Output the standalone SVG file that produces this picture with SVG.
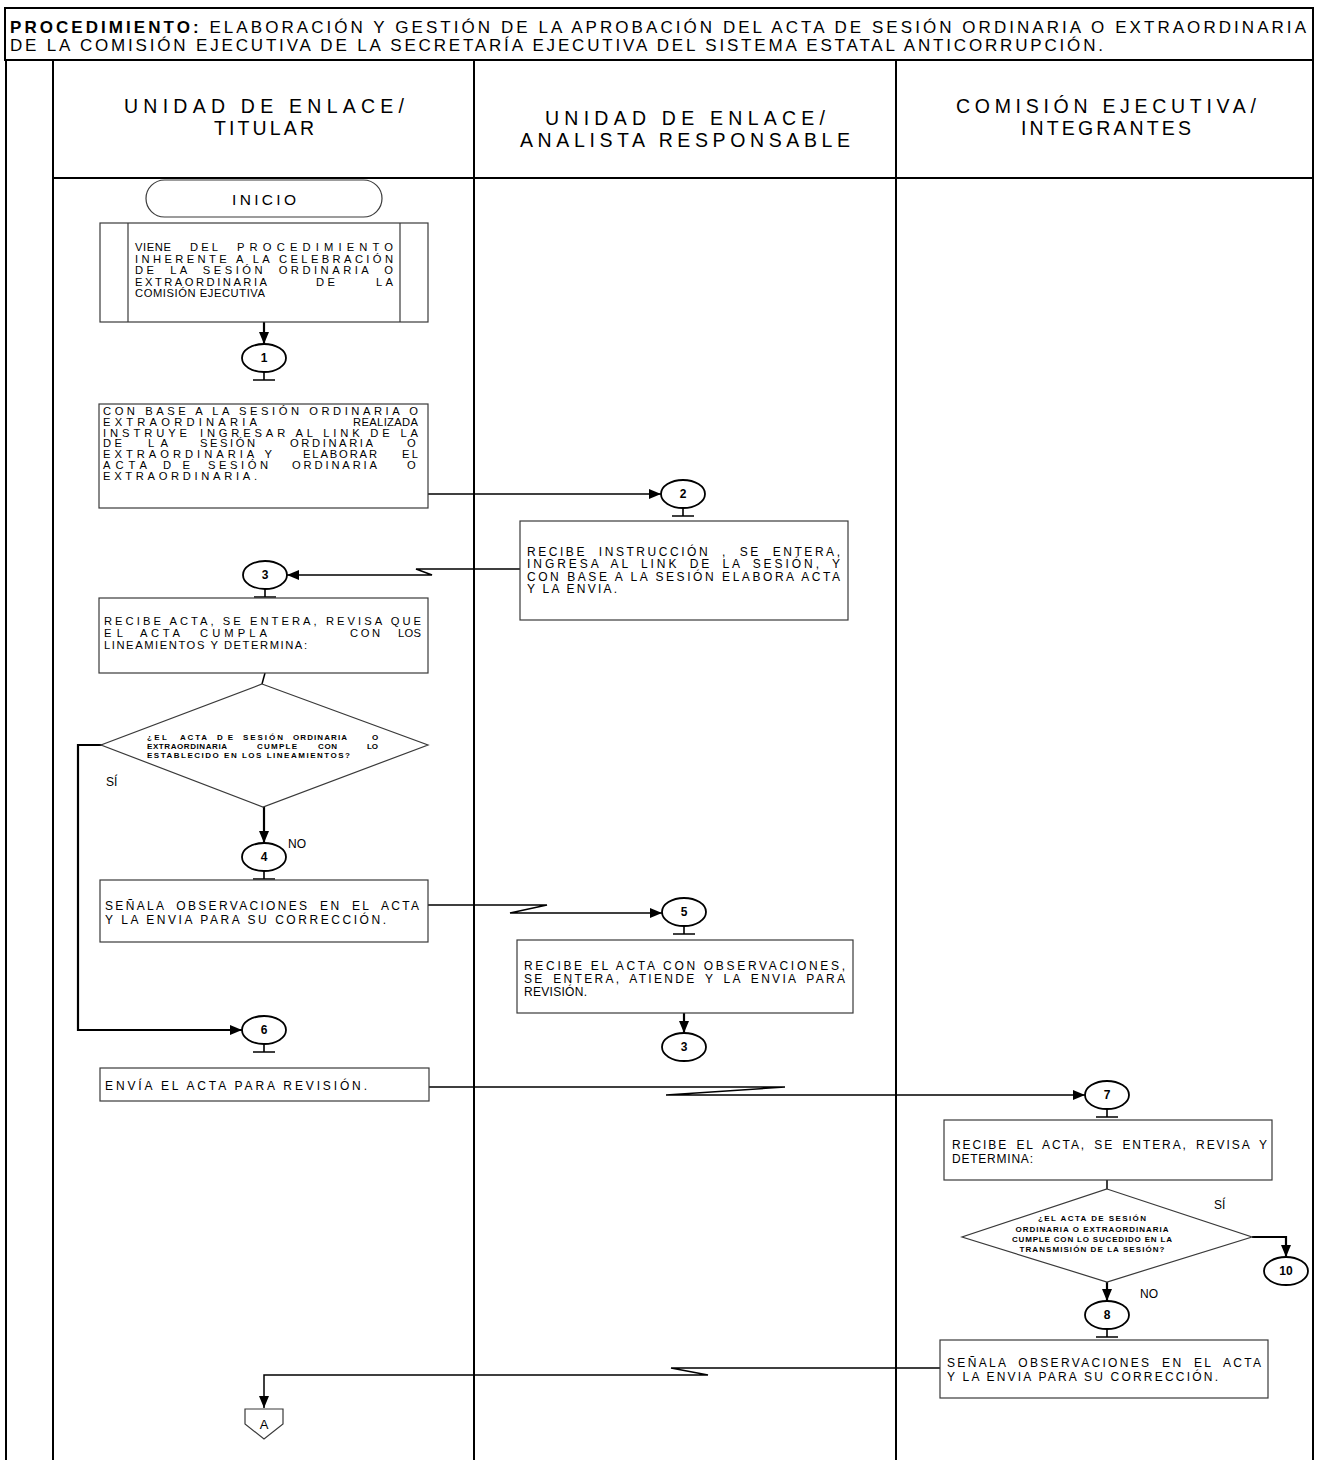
<svg xmlns="http://www.w3.org/2000/svg" width="1318" height="1460" viewBox="0 0 1318 1460">
<defs>
<marker id="ah" markerUnits="userSpaceOnUse" markerWidth="12" markerHeight="10" refX="12" refY="5" orient="auto"><path d="M0,0 L12,5 L0,10 z" fill="#000"/></marker>
<style>
text{font-family:"Liberation Sans",Arial,sans-serif;fill:#000}
.h{font-size:17px}
.lh{font-size:19.5px}
.t{font-size:12px}
.s{font-size:11.2px}
.d{font-size:8px;font-weight:bold}
.n{font-size:12px;font-weight:bold;text-anchor:middle}
.lab{font-size:12px}
.box{fill:#fff;stroke:#3a3a3a;stroke-width:1.2}
.frame{stroke:#000;stroke-width:2;fill:none}
.c{fill:#fff;stroke:#000;stroke-width:1.8}
.tee{stroke:#000;stroke-width:1.6;fill:none}
.cn{stroke:#000;stroke-width:1.5;fill:none}
.ca{stroke:#000;stroke-width:2.2;fill:none}
</style>
</defs>
<rect width="1318" height="1460" fill="#fff"/>

<g id="frame">
<rect x="5" y="8" width="1308" height="52" class="frame"/>
<line x1="6" y1="60" x2="6" y2="1460" class="frame"/>
<line x1="1313" y1="60" x2="1313" y2="1460" class="frame"/>
<line x1="53" y1="60" x2="53" y2="1460" class="frame"/>
<line x1="474" y1="60" x2="474" y2="1460" class="frame"/>
<line x1="896" y1="60" x2="896" y2="1460" class="frame"/>
<line x1="53" y1="178" x2="1313" y2="178" class="frame"/>
<text class="h" x="10" y="33" textLength="1296" lengthAdjust="spacing"><tspan font-weight="bold">PROCEDIMIENTO:</tspan> ELABORACIÓN Y GESTIÓN DE LA APROBACIÓN DEL ACTA DE SESIÓN ORDINARIA O EXTRAORDINARIA</text>
<text class="h" x="10" y="50.5" textLength="1093" lengthAdjust="spacing">DE LA COMISIÓN EJECUTIVA DE LA SECRETARÍA EJECUTIVA DEL SISTEMA ESTATAL ANTICORRUPCIÓN.</text>
</g>

<g id="lane1-header"><text class="lh" x="264" y="113" text-anchor="middle" textLength="280" lengthAdjust="spacing">UNIDAD DE ENLACE/</text><text class="lh" x="264" y="135" text-anchor="middle" textLength="100" lengthAdjust="spacing">TITULAR</text></g>
<g id="lane2-header"><text class="lh" x="685" y="125" text-anchor="middle" textLength="280" lengthAdjust="spacing">UNIDAD DE ENLACE/</text><text class="lh" x="685" y="147" text-anchor="middle" textLength="330" lengthAdjust="spacing">ANALISTA RESPONSABLE</text></g>
<g id="lane3-header"><text class="lh" x="1106" y="113" text-anchor="middle" textLength="300" lengthAdjust="spacing">COMISIÓN EJECUTIVA/</text><text class="lh" x="1106" y="135" text-anchor="middle" textLength="170" lengthAdjust="spacing">INTEGRANTES</text></g>

<g id="connectors">
<path d="M264,322 V344" class="ca" marker-end="url(#ah)"/>
<path d="M428,494 H661" class="cn" marker-end="url(#ah)"/>
<path d="M520,569 H416 L432,575 H287" class="cn" marker-end="url(#ah)"/>
<path d="M265,673 L262,684" class="cn"/>
<path d="M103,745 H78 V1030 H242" class="ca" marker-end="url(#ah)"/>
<path d="M264,806 V843" class="ca" marker-end="url(#ah)"/>
<path d="M428,905 H547 L510,913 H662" class="cn" marker-end="url(#ah)"/>
<path d="M684,1013 V1033" class="ca" marker-end="url(#ah)"/>
<path d="M429,1087 H785 L666,1095 H1085" class="cn" marker-end="url(#ah)"/>
<path d="M1107,1180 V1189" class="cn"/>
<path d="M1252,1237 H1286 V1257" class="ca" marker-end="url(#ah)"/>
<path d="M1107,1282 V1301" class="ca" marker-end="url(#ah)"/>
<path d="M940,1368 H671 L708,1375 H264 V1408" class="cn" marker-end="url(#ah)"/>
</g>

<g id="inicio"><rect x="146" y="180" width="236" height="37" rx="18.5" class="box"/><text x="264" y="204.5" font-size="15.5" text-anchor="middle" textLength="64" lengthAdjust="spacing">INICIO</text></g>

<g id="box-viene"><rect x="100" y="223" width="328" height="99" class="box"/><line x1="128" y1="223" x2="128" y2="322" class="box"/><line x1="400" y1="223" x2="400" y2="322" class="box"/>
<text class="s" x="135" y="251" textLength="36" lengthAdjust="spacing">VIENE</text><text class="s" x="190" y="251" textLength="28" lengthAdjust="spacing">DEL</text><text class="s" x="237" y="251" textLength="156" lengthAdjust="spacing">PROCEDIMIENTO</text>
<text class="s" x="135" y="262.5" textLength="258" lengthAdjust="spacing">INHERENTE A LA CELEBRACIÓN</text>
<text class="s" x="135" y="274" textLength="258" lengthAdjust="spacing" word-spacing="6">DE LA SESIÓN ORDINARIA O</text>
<text class="s" x="135" y="285.5" textLength="132" lengthAdjust="spacing">EXTRAORDINARIA</text><text class="s" x="316" y="285.5" textLength="19" lengthAdjust="spacing">DE</text><text class="s" x="376" y="285.5" textLength="17" lengthAdjust="spacing">LA</text>
<text class="s" x="135" y="297" textLength="130" lengthAdjust="spacing">COMISIÓN EJECUTIVA</text></g>

<g id="n1"><ellipse cx="264" cy="358" rx="22" ry="14" class="c"/><path d="M264,372 V380 M253,380 H275" class="tee"/><text class="n" x="264" y="362">1</text></g>

<g id="box-con-base"><rect x="99" y="404" width="329" height="104" class="box"/>
<text class="s" x="103" y="415" textLength="315" lengthAdjust="spacing">CON BASE A LA SESIÓN ORDINARIA O</text>
<text class="s" x="103" y="425.7" textLength="154" lengthAdjust="spacing">EXTRAORDINARIA</text><text class="s" x="353" y="425.7" textLength="65" lengthAdjust="spacing">REALIZADA</text>
<text class="s" x="103" y="436.7" textLength="84" lengthAdjust="spacing">INSTRUYE</text><text class="s" x="200" y="436.7" textLength="218" lengthAdjust="spacing">INGRESAR AL LINK DE LA</text>
<text class="s" x="103" y="447.3" textLength="19" lengthAdjust="spacing">DE</text><text class="s" x="148" y="447.3" textLength="20" lengthAdjust="spacing">LA</text><text class="s" x="200" y="447.3" textLength="55" lengthAdjust="spacing">SESIÓN</text><text class="s" x="290" y="447.3" textLength="83" lengthAdjust="spacing">ORDINARIA</text><text class="s" x="407" y="447.3" textLength="11" lengthAdjust="spacing">O</text>
<text class="s" x="103" y="458" textLength="169" lengthAdjust="spacing">EXTRAORDINARIA  Y</text><text class="s" x="303" y="458" textLength="74" lengthAdjust="spacing">ELABORAR</text><text class="s" x="402" y="458" textLength="16" lengthAdjust="spacing">EL</text>
<text class="s" x="103" y="469" textLength="44" lengthAdjust="spacing">ACTA</text><text class="s" x="163" y="469" textLength="27" lengthAdjust="spacing">DE</text><text class="s" x="208" y="469" textLength="60" lengthAdjust="spacing">SESIÓN</text><text class="s" x="292" y="469" textLength="85" lengthAdjust="spacing">ORDINARIA</text><text class="s" x="407" y="469" textLength="11" lengthAdjust="spacing">O</text>
<text class="s" x="103" y="480" textLength="154" lengthAdjust="spacing">EXTRAORDINARIA.</text></g>

<g id="n2"><ellipse cx="683" cy="494" rx="22" ry="14" class="c"/><path d="M683,508 V516 M672,516 H694" class="tee"/><text class="n" x="683" y="498">2</text></g>

<g id="box-recibe-instruccion"><rect x="520" y="521" width="328" height="99" class="box"/>
<text class="t" x="527" y="555.5" textLength="313" lengthAdjust="spacing" word-spacing="6">RECIBE INSTRUCCIÓN , SE ENTERA,</text>
<text class="t" x="527" y="568" textLength="313" lengthAdjust="spacing" word-spacing="4">INGRESA AL LINK  DE LA SESIÓN, Y</text>
<text class="t" x="527" y="580.5" textLength="313" lengthAdjust="spacing">CON BASE A LA SESIÓN ELABORA ACTA</text>
<text class="t" x="527" y="593" textLength="90" lengthAdjust="spacing">Y LA ENVIA.</text></g>

<g id="n3"><ellipse cx="265" cy="575" rx="22" ry="14" class="c"/><path d="M265,589 V597 M254,597 H276" class="tee"/><text class="n" x="265" y="579">3</text></g>

<g id="box-recibe-acta"><rect x="99" y="598" width="329" height="75" class="box"/>
<text class="s" x="104" y="625" textLength="317" lengthAdjust="spacing">RECIBE ACTA, SE ENTERA, REVISA QUE</text>
<text class="s" x="104" y="637" textLength="19" lengthAdjust="spacing">EL</text><text class="s" x="140" y="637" textLength="40" lengthAdjust="spacing">ACTA</text><text class="s" x="200" y="637" textLength="67" lengthAdjust="spacing">CUMPLA</text><text class="s" x="350" y="637" textLength="30" lengthAdjust="spacing">CON</text><text class="s" x="398" y="637" textLength="23" lengthAdjust="spacing">LOS</text>
<text class="s" x="104" y="649" textLength="203" lengthAdjust="spacing">LINEAMIENTOS Y DETERMINA:</text></g>

<g id="decision1"><polygon points="262,684 428,745 263,807 101,745" class="box"/>
<text class="d" x="147" y="739.5" textLength="20" lengthAdjust="spacing">¿EL</text><text class="d" x="180" y="739.5" textLength="27" lengthAdjust="spacing">ACTA</text><text class="d" x="217" y="739.5" textLength="16" lengthAdjust="spacing">DE</text><text class="d" x="243" y="739.5" textLength="40" lengthAdjust="spacing">SESIÓN</text><text class="d" x="293" y="739.5" textLength="54" lengthAdjust="spacing">ORDINARIA</text><text class="d" x="372" y="739.5" textLength="6" lengthAdjust="spacing">O</text>
<text class="d" x="147" y="748.5" textLength="80" lengthAdjust="spacing">EXTRAORDINARIA</text><text class="d" x="257" y="748.5" textLength="40" lengthAdjust="spacing">CUMPLE</text><text class="d" x="318" y="748.5" textLength="19" lengthAdjust="spacing">CON</text><text class="d" x="367" y="748.5" textLength="11" lengthAdjust="spacing">LO</text>
<text class="d" x="147" y="757.7" textLength="203" lengthAdjust="spacing">ESTABLECIDO EN LOS LINEAMIENTOS?</text></g>
<text class="lab" x="106" y="786">SÍ</text>
<text class="lab" x="288" y="848">NO</text>

<g id="n4"><ellipse cx="264" cy="857" rx="22" ry="14" class="c"/><path d="M264,871 V879 M253,879 H275" class="tee"/><text class="n" x="264" y="861">4</text></g>

<g id="box-senala1"><rect x="100" y="880" width="328" height="62" class="box"/>
<text class="t" x="105" y="909.5" textLength="314" lengthAdjust="spacing" word-spacing="5">SEÑALA OBSERVACIONES EN EL ACTA</text>
<text class="t" x="105" y="923.5" textLength="281" lengthAdjust="spacing">Y LA ENVIA PARA SU CORRECCIÓN.</text></g>

<g id="n5"><ellipse cx="684" cy="912" rx="22" ry="14" class="c"/><path d="M684,926 V934 M673,934 H695" class="tee"/><text class="n" x="684" y="916">5</text></g>

<g id="box-recibe-obs"><rect x="517" y="940" width="336" height="73" class="box"/>
<text class="t" x="524" y="969.5" textLength="321" lengthAdjust="spacing">RECIBE EL ACTA CON OBSERVACIONES,</text>
<text class="t" x="524" y="982.5" textLength="321" lengthAdjust="spacing" word-spacing="3">SE ENTERA, ATIENDE Y LA ENVIA PARA</text>
<text class="t" x="524" y="995.5" textLength="63" lengthAdjust="spacing">REVISIÓN.</text></g>

<g id="n3b"><ellipse cx="684" cy="1047" rx="22" ry="14" class="c"/><text class="n" x="684" y="1051">3</text></g>

<g id="n6"><ellipse cx="264" cy="1030" rx="22" ry="14" class="c"/><path d="M264,1044 V1052 M253,1052 H275" class="tee"/><text class="n" x="264" y="1034">6</text></g>

<g id="box-envia"><rect x="100" y="1068" width="329" height="33" class="box"/>
<text class="t" x="105" y="1089.5" textLength="262" lengthAdjust="spacing">ENVÍA  EL ACTA PARA REVISIÓN.</text></g>

<g id="n7"><ellipse cx="1107" cy="1095" rx="22" ry="14" class="c"/><path d="M1107,1109 V1117 M1096,1117 H1118" class="tee"/><text class="n" x="1107" y="1099">7</text></g>

<g id="box-recibe-determina"><rect x="944" y="1120" width="328" height="60" class="box"/>
<text class="t" x="952" y="1148.5" textLength="315" lengthAdjust="spacing" word-spacing="3">RECIBE EL ACTA, SE ENTERA, REVISA  Y</text>
<text class="t" x="952" y="1162.5" textLength="81" lengthAdjust="spacing">DETERMINA:</text></g>

<g id="decision2"><polygon points="1107,1189 1252,1237 1107,1282 962,1237" class="box"/>
<text class="d" x="1092" y="1221" text-anchor="middle" textLength="108" lengthAdjust="spacing">¿EL ACTA DE SESIÓN</text>
<text class="d" x="1092" y="1231.5" text-anchor="middle" textLength="153" lengthAdjust="spacing">ORDINARIA O EXTRAORDINARIA</text>
<text class="d" x="1092" y="1242" text-anchor="middle" textLength="160" lengthAdjust="spacing">CUMPLE CON LO SUCEDIDO EN LA</text>
<text class="d" x="1092" y="1252" text-anchor="middle" textLength="145" lengthAdjust="spacing">TRANSMISIÓN DE LA SESIÓN?</text></g>
<text class="lab" x="1214" y="1209">SÍ</text>
<text class="lab" x="1140" y="1298">NO</text>

<g id="n10"><ellipse cx="1286" cy="1271" rx="22" ry="14" class="c"/><text class="n" x="1286" y="1275">10</text></g>

<g id="n8"><ellipse cx="1107" cy="1315" rx="22" ry="14" class="c"/><path d="M1107,1329 V1337 M1096,1337 H1118" class="tee"/><text class="n" x="1107" y="1319">8</text></g>

<g id="box-senala2"><rect x="940" y="1340" width="328" height="58" class="box"/>
<text class="t" x="947" y="1367" textLength="314" lengthAdjust="spacing" word-spacing="5">SEÑALA OBSERVACIONES EN EL ACTA</text>
<text class="t" x="947" y="1380.5" textLength="271" lengthAdjust="spacing">Y LA ENVIA PARA SU CORRECCIÓN.</text></g>

<g id="offpage-A"><polygon points="245,1409 283,1409 283,1424 264,1439 245,1424" class="box"/><text x="264" y="1428.5" font-size="13" text-anchor="middle">A</text></g>
</svg>
